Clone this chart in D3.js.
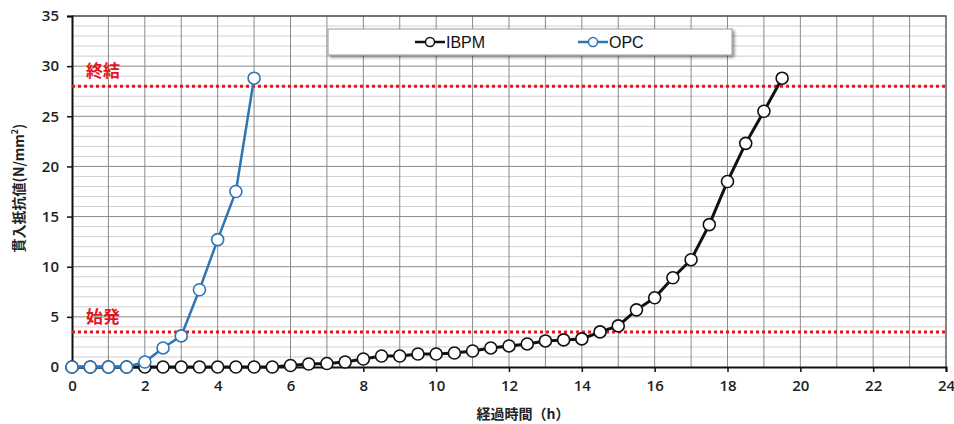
<!DOCTYPE html>
<html>
<head>
<meta charset="utf-8">
<title>貫入抵抗値</title>
<script src="https://cdnjs.cloudflare.com/ajax/libs/d3/7.8.5/d3.min.js"></script>
<style>
  body { margin: 0; background: #fff; }
  svg { display: block; }
  .tick text { font-family: "Open Sans", "Noto Sans", sans-serif; font-weight: 600; font-size: 15px; fill: #222; }
</style>
</head>
<body>
<div id="chart"></div>
<script>
// data
var ibpmX = [0, 0.5, 1, 1.5, 2, 2.5, 3, 3.5, 4, 4.5, 5, 5.5, 6, 6.5, 7, 7.5, 8, 8.5, 9, 9.5, 10,
             10.5, 11, 11.5, 12, 12.5, 13, 13.5, 14, 14.5, 15, 15.5, 16, 16.5, 17, 17.5, 18, 18.5, 19, 19.5];
var ibpmY = [0, 0, 0, 0, 0, 0, 0, 0, 0, 0, 0, 0, 0.15, 0.3, 0.35, 0.5, 0.8, 1.1, 1.1, 1.3, 1.3,
             1.4, 1.6, 1.9, 2.1, 2.3, 2.6, 2.7, 2.8, 3.5, 4.1, 5.7, 6.9, 8.9, 10.7, 14.2, 18.5, 22.3, 25.5, 28.8];
var opcX = [0, 0.5, 1, 1.5, 2, 2.5, 3, 3.5, 4, 4.5, 5];
var opcY = [0, 0, 0, 0, 0.5, 1.9, 3.1, 7.7, 12.7, 17.5, 28.8];
var refValues = [3.5, 28.0];
var refLabels = ["始発", "終結"];
var xTicks = [0, 2, 4, 6, 8, 10, 12, 14, 16, 18, 20, 22, 24];
var yTicks = [0, 5, 10, 15, 20, 25, 30, 35];

var width = 954, height = 424;
var margin = {left: 72, right: 8, top: 16, bottom: 57};

var svg = d3.select('#chart').append('svg')
    .attr('width', width)
    .attr('height', height);

var x = d3.scaleLinear().domain([0, 24]).range([margin.left, width - margin.right]);
var y = d3.scaleLinear().domain([0, 35]).range([height - margin.bottom, margin.top]);

// grid
var grid = svg.append('g');
grid.selectAll('.hmin').data(d3.range(1, 35)).enter().append('line')
    .attr('x1', x(0)).attr('x2', x(24))
    .attr('y1', function(d) { return y(d); }).attr('y2', function(d) { return y(d); })
    .attr('stroke', function(d) { return d % 5 === 0 ? '#8a8a8a' : '#cfcfcf'; })
    .attr('stroke-width', 1);
grid.selectAll('.vmin').data(d3.range(1, 24)).enter().append('line')
    .attr('y1', y(0)).attr('y2', y(35))
    .attr('x1', function(d) { return x(d); }).attr('x2', function(d) { return x(d); })
    .attr('stroke', '#8a8a8a')
    .attr('stroke-width', 1);
// top and right frame
grid.append('path')
    .attr('d', 'M' + x(0) + ',' + y(35) + 'H' + x(24) + 'V' + y(0))
    .attr('fill', 'none')
    .attr('stroke', '#444').attr('stroke-width', 1.3);

// axes
var xAxis = svg.append('g')
    .attr('transform', 'translate(0,' + y(0) + ')')
    .call(d3.axisBottom(x).tickValues(xTicks).tickSize(5).tickPadding(8));
var yAxis = svg.append('g')
    .attr('transform', 'translate(' + x(0) + ',0)')
    .call(d3.axisLeft(y).tickValues(yTicks).tickSize(5).tickPadding(8));
svg.selectAll('.domain').attr('stroke', '#111').attr('stroke-width', 2);
svg.selectAll('.tick line').attr('stroke', '#111').attr('stroke-width', 1.5);

// reference lines
svg.selectAll('.ref').data(refValues).enter().append('line')
    .attr('x1', x(0)).attr('x2', x(24))
    .attr('y1', function(d) { return y(d); }).attr('y2', function(d) { return y(d); })
    .attr('stroke', '#e8141c')
    .attr('stroke-width', 3)
    .attr('stroke-dasharray', '3,3');
svg.selectAll('.refLabel').data(refValues).enter().append('text')
    .attr('x', x(0) + 14)
    .attr('y', function(d) { return y(d) - 9; })
    .attr('fill', '#e8141c')
    .attr('font-family', '"Noto Sans CJK JP", sans-serif')
    .attr('font-weight', 'bold')
    .attr('font-size', 17)
    .text(function(d, i) { return refLabels[i]; });

// series
var line = d3.line()
    .x(function(d) { return x(d[0]); })
    .y(function(d) { return y(d[1]); });

function drawSeries(xs, ys, color, lw) {
    var pts = d3.zip(xs, ys);
    svg.append('path')
        .datum(pts)
        .attr('fill', 'none')
        .attr('stroke', color)
        .attr('stroke-width', lw)
        .attr('d', line);
    svg.append('g').selectAll('circle').data(pts).enter().append('circle')
        .attr('cx', function(d) { return x(d[0]); })
        .attr('cy', function(d) { return y(d[1]); })
        .attr('r', 6)
        .attr('fill', '#fff')
        .attr('stroke', color)
        .attr('stroke-width', 1.6);
}
drawSeries(ibpmX, ibpmY, '#111', 3);
drawSeries(opcX, opcY, '#2e75b6', 2.5);

// legend
var defs = svg.append('defs');
var f = defs.append('filter').attr('id', 'shadow').attr('x', '-5%').attr('y', '-30%').attr('width', '110%').attr('height', '170%');
f.append('feDropShadow').attr('dx', 2).attr('dy', 2).attr('stdDeviation', 1.5).attr('flood-color', '#000').attr('flood-opacity', 0.45);

var legend = svg.append('g');
legend.append('rect')
    .attr('x', 328).attr('y', 29).attr('width', 404).attr('height', 26)
    .attr('fill', '#fff').attr('stroke', '#999').attr('stroke-width', 1)
    .attr('filter', 'url(#shadow)');
var legendItems = [
    {name: 'IBPM', color: '#111', lx: 415},
    {name: 'OPC', color: '#2e75b6', lx: 578}
];
legendItems.forEach(function(it) {
    legend.append('line')
        .attr('x1', it.lx).attr('x2', it.lx + 30).attr('y1', 42).attr('y2', 42)
        .attr('stroke', it.color).attr('stroke-width', 2.5);
    legend.append('circle')
        .attr('cx', it.lx + 15).attr('cy', 42).attr('r', 4.5)
        .attr('fill', '#fff').attr('stroke', it.color).attr('stroke-width', 1.5);
    legend.append('text')
        .attr('x', it.lx + 31).attr('y', 47.5)
        .attr('font-family', '"Liberation Sans", Arial, sans-serif')
        .attr('font-size', 16)
        .attr('fill', '#111')
        .text(it.name);
});

// axis titles
svg.append('text')
    .attr('x', 523).attr('y', 419)
    .attr('text-anchor', 'middle')
    .attr('font-family', '"Noto Sans CJK JP", sans-serif')
    .attr('font-weight', 'bold')
    .attr('font-size', 14)
    .attr('fill', '#222')
    .text('経過時間（h）');
var yt = svg.append('text')
    .attr('transform', 'translate(24,188) rotate(-90)')
    .attr('text-anchor', 'middle')
    .attr('font-family', '"Noto Sans CJK JP", sans-serif')
    .attr('font-weight', 'bold')
    .attr('font-size', 14)
    .attr('fill', '#222');
yt.append('tspan').text('貫入抵抗値(N/mm');
yt.append('tspan').attr('baseline-shift', 'super').attr('font-size', 9).text('2');
yt.append('tspan').text(')');
</script>
</body>
</html>
